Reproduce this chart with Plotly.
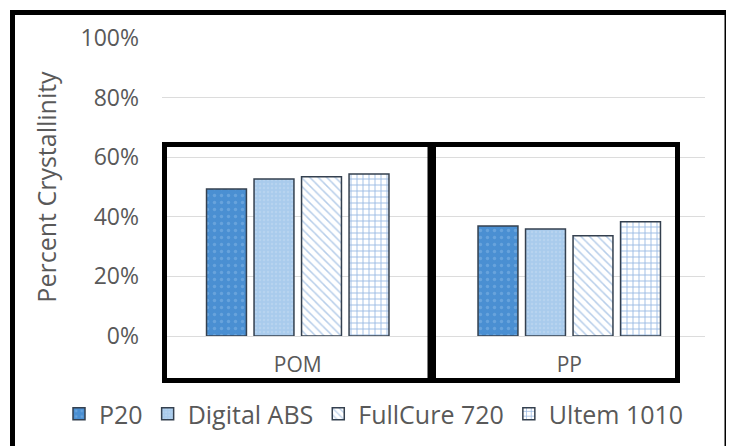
import plotly.graph_objects as go

categories = ["POM", "PP"]
series_names = ["P20", "Digital ABS", "FullCure 720", "Ultem 1010"]
p20 = [49.3, 36.9]
digital_abs = [52.7, 35.9]
fullcure_720 = [53.4, 33.6]
ultem_1010 = [54.4, 38.3]
y_ticks = [0, 20, 40, 60, 80, 100]
y_tick_labels = ["0%", "20%", "40%", "60%", "80%", "100%"]

# page body has an 8px margin; target screen pixel positions are converted
OFF = 8
W, H = 734, 446
ML, MT = 162 - OFF, 38 - OFF
PW, PH = 543, 298
MR = W - ML - PW
MB = H - MT - PH


def px(x):
    return (x - OFF - ML) / PW


def py(y):
    return (MT + PH + OFF - y) / PH


FONT = "Open Sans"
GREY = "#595959"
OUTLINE = "#34404f"

styles = [
    dict(color="#4a8fd2", pattern=dict(shape=".", fgcolor="#86b7e6", bgcolor="#4a8fd2", size=7, solidity=0.18, fillmode="overlay")),
    dict(color="#a9cbec", pattern=dict(shape=".", fgcolor="#c3daf1", bgcolor="#a9cbec", size=4, solidity=0.3, fillmode="overlay")),
    dict(color="#ffffff", pattern=dict(shape="\\", fgcolor="#6e9bd3", bgcolor="#ffffff", size=6, solidity=0.25, fillmode="overlay")),
    dict(color="#ffffff", pattern=dict(shape="+", fgcolor="#3574c8", bgcolor="#ffffff", size=6, solidity=0.28, fillmode="overlay")),
]

fig = go.Figure()
for name, vals, st in zip(series_names, [p20, digital_abs, fullcure_720, ultem_1010], styles):
    fig.add_trace(go.Bar(
        x=categories, y=vals, name=name,
        marker=dict(color=st["color"], pattern=st["pattern"],
                    line=dict(color=OUTLINE, width=1.5)),
    ))

frame = dict(color="black", width=5)
shapes = [
    dict(type="rect", xref="paper", yref="paper",
         x0=px(12.5), x1=px(727), y0=py(470), y1=py(12.5),
         line=frame, fillcolor="rgba(0,0,0,0)"),
    dict(type="rect", xref="paper", yref="paper",
         x0=px(164.5), x1=px(430), y0=py(380.5), y1=py(144.5),
         line=frame, fillcolor="rgba(0,0,0,0)"),
    dict(type="rect", xref="paper", yref="paper",
         x0=px(433.5), x1=px(677.5), y0=py(380.5), y1=py(144.5),
         line=frame, fillcolor="rgba(0,0,0,0)"),
]

fig.update_layout(
    width=W, height=H,
    margin=dict(l=ML, r=MR, t=MT, b=MB, autoexpand=False),
    paper_bgcolor="white", plot_bgcolor="white",
    barmode="group", bargap=0.30, bargroupgap=0.16,
    font=dict(family=FONT, color=GREY),
    showlegend=True,
    legend=dict(orientation="h", x=px(59), xanchor="left",
                y=py(414), yanchor="middle",
                font=dict(family=FONT, size=25, color=GREY),
                itemwidth=30, traceorder="normal", bgcolor="rgba(0,0,0,0)"),
    shapes=shapes,
)
fig.update_yaxes(range=[0, 100], tickvals=y_ticks, ticktext=y_tick_labels,
                 showgrid=True, gridcolor="#dcdcdc", gridwidth=1,
                 zeroline=True, zerolinecolor="#dcdcdc", zerolinewidth=1,
                 showline=False, ticks="", ticklabelstandoff=22,
                 tickfont=dict(family=FONT, size=23, color=GREY),
                 title=dict(text="Percent Crystallinity", standoff=16,
                            font=dict(family=FONT, size=25, color=GREY)))
fig.update_xaxes(showline=False, ticks="", ticklabelstandoff=14,
                 tickfont=dict(family=FONT, size=21, color=GREY))

fig.write_html("out.html")
